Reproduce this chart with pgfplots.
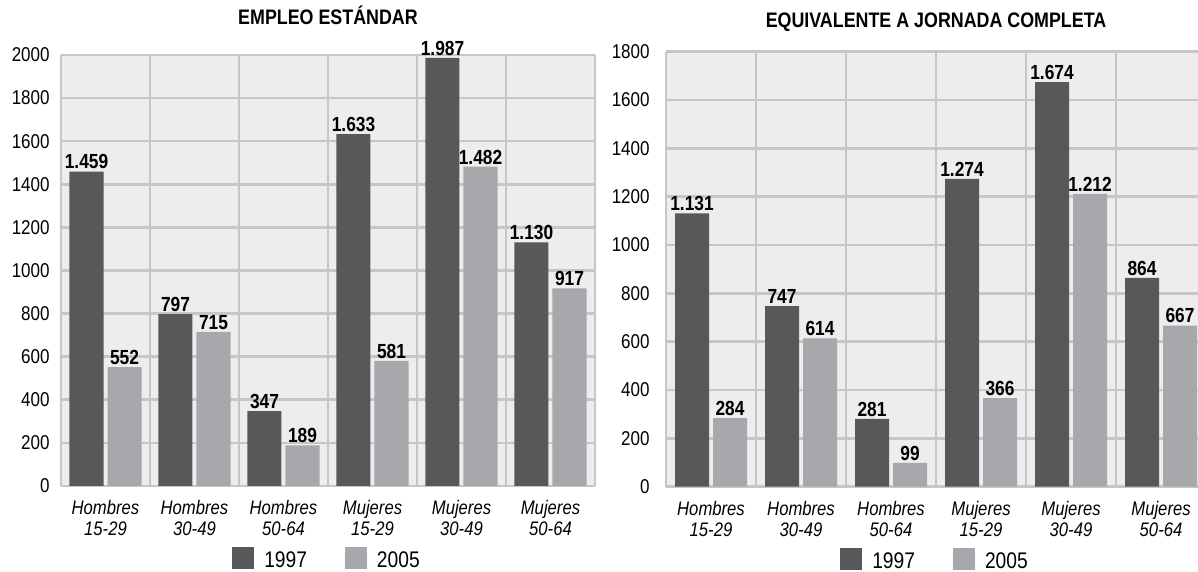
\documentclass[border=0pt]{standalone}
\usepackage{fontspec}
\setmainfont{Liberation Sans}[FakeStretch=0.85]
\usepackage{pgfplots}
\pgfplotsset{compat=1.18}
\definecolor{dark}{HTML}{58585A}
\definecolor{light}{HTML}{A7A8AB}
\definecolor{bg}{HTML}{EDEDED}
\definecolor{gridc}{HTML}{C6C6C6}

\pgfplotstableread{
x y97 y05
0 1459 552
1 797 715
2 347 189
3 1633 581
4 1987 1482
5 1130 917
}\empleo
\pgfplotstableread{
x y97 y05
0 1131 284
1 747 614
2 281 99
3 1274 366
4 1674 1212
5 864 667
}\ejc

\pgfplotsset{
 mystyle/.style={
  scale only axis,
  clip=false,
  enlargelimits=false,
  ybar=2pt, bar width=17pt,
  axis background/.style={fill=bg},
  axis line style={draw=none},
  xmin=-0.5, ymin=0,
  xtick={0,...,5},
  xticklabels={{Hombres\\15-29},{Hombres\\30-49},{Hombres\\50-64},{Mujeres\\15-29},{Mujeres\\30-49},{Mujeres\\50-64}},
  minor xtick={-0.5,0.5,1.5,2.5,3.5,4.5,5.5},
  xminorgrids=true, ymajorgrids=true, xmajorgrids=false,
  grid style={draw=gridc, line width=1.3pt},
  minor grid style={draw=gridc, line width=1.3pt},
  major tick length=0pt, minor tick length=0pt,
  tick style={draw=none},
  xticklabel style={align=center, font=\fontsize{9.8}{10.6}\selectfont\itshape, inner sep=0pt, yshift=-7pt},
  yticklabel style={font=\fontsize{10}{12}\selectfont, inner sep=0pt},
  /pgf/number format/1000 sep={},
  /pgf/number format/assume math mode=true,
  nodes near coords={\pgfmathprintnumber[fixed,precision=0,1000 sep={.}]{\pgfplotspointmeta}},
  every node near coord/.append style={font=\bfseries\fontsize{10.2}{12}\selectfont, inner sep=1pt, text=black},
  title style={font=\bfseries\fontsize{10.5}{12}\selectfont, inner sep=0pt, anchor=base},
  legend columns=2,
  legend style={draw=none, fill=none, font=\fontsize{11.3}{13}\selectfont, anchor=center,
    /tikz/every odd column/.append style={column sep=3pt},
    /tikz/every even column/.append style={column sep=17pt}},
  legend image code/.code={\fill[##1] (0pt,-4pt) rectangle (11pt,7pt);},
 }
}

\begin{document}
\begin{tikzpicture}
\path[use as bounding box] (0,0) rectangle (599pt,286pt);
\begin{axis}[mystyle,
  at={(30.5pt,43pt)}, anchor=south west,
  width=267pt, height=215.5pt,
  xmax=5.5, ymax=2000,
  ytick={0,200,...,2000},
  yticklabel style={xshift=-5.5pt},
  title={EMPLEO ESTÁNDAR},
  title style={at={(0.5,1)}, yshift=9pt},
  legend style={at={(axis description cs:0.5,-0.174)}},
]
\addplot[fill=dark, draw=none] table[x=x, y=y97] {\empleo};
\addplot[fill=light, draw=none] table[x=x, y=y05] {\empleo};
\legend{1997,2005}
\end{axis}
\begin{axis}[mystyle,
  at={(333pt,42.65pt)}, anchor=south west,
  width=266pt, height=217.5pt,
  xmax=5.411, ymax=1800,
  ytick={0,200,...,1800},
  yticklabel style={xshift=-8pt},
  title={EQUIVALENTE A JORNADA COMPLETA},
  title style={at={(0.5075,1)}, yshift=6pt},
  legend style={at={(axis description cs:0.5075,-0.172)}},
]
\addplot[fill=dark, draw=none] table[x=x, y=y97] {\ejc};
\addplot[fill=light, draw=none] table[x=x, y=y05] {\ejc};
\legend{1997,2005}
\end{axis}
\end{tikzpicture}
\end{document}
